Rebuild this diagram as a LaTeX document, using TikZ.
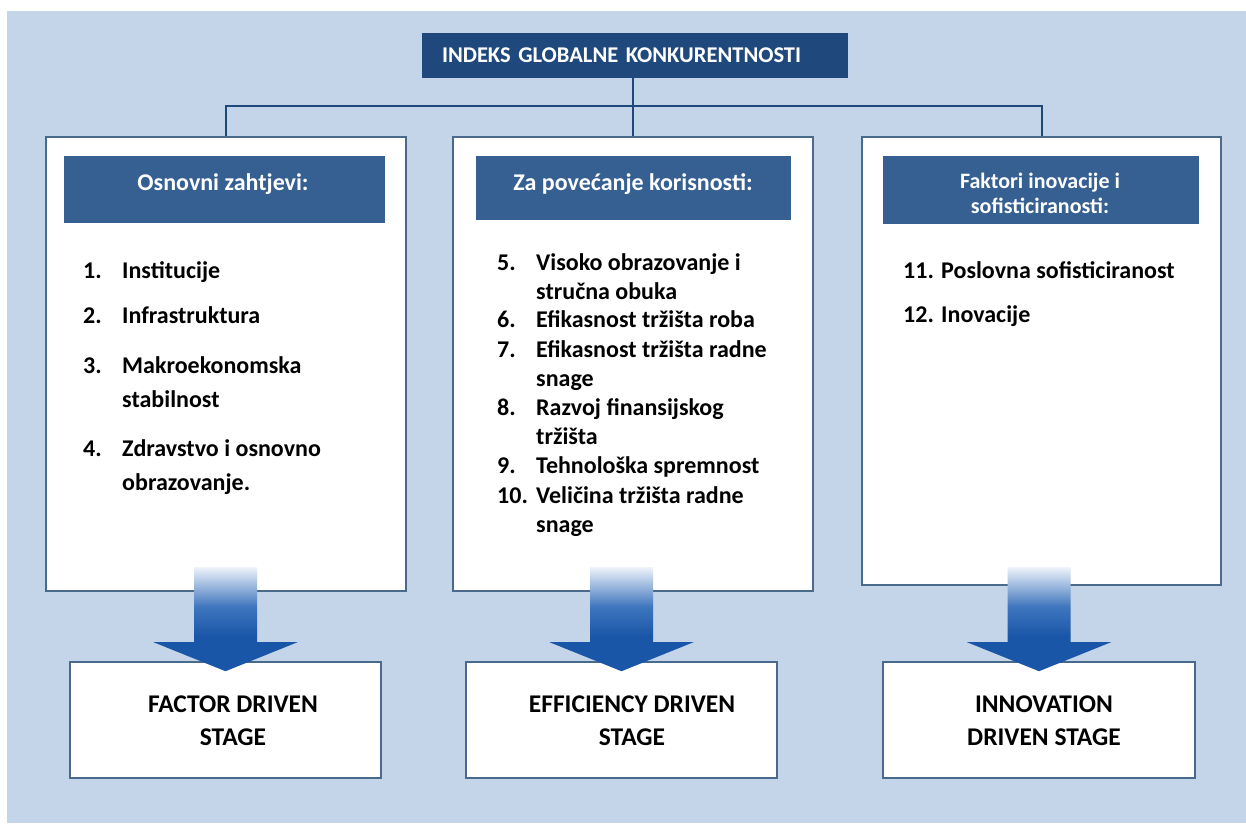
\documentclass[tikz,border=0pt]{standalone}
\usepackage{fontspec}
\setmainfont{Carlito}
\usetikzlibrary{calc}

\definecolor{bgblue}{HTML}{C4D4E9}
\definecolor{titleblue}{HTML}{1F497D}
\definecolor{barblue}{HTML}{366092}
\definecolor{edgeblue}{HTML}{4A6A8C}
\definecolor{arrowdark}{HTML}{1A56A8}
\definecolor{arrowmid}{HTML}{3F76BE}
\definecolor{arrowpale}{HTML}{EEF3FA}

\pgfdeclareverticalshading{arrowfade}{100bp}{color(0bp)=(arrowdark); color(25bp)=(arrowdark);
  color(42bp)=(arrowdark); color(56bp)=(arrowmid); color(75bp)=(arrowpale); color(100bp)=(arrowpale)}

\newcommand{\lines}[1]{\begin{tabular}[t]{@{}l@{}}#1\end{tabular}}
\newcommand{\clines}[1]{\begin{tabular}[t]{@{}c@{}}#1\end{tabular}}
% block arrow from a column box down into its stage box
\newcommand{\blockarrow}[1]{%
  \shade[shading=arrowfade]
    ($(#1.north)+(-31.5,-94)$) -- ($(#1.north)+(31.5,-94)$)
    -- ($(#1.north)+(31.5,-19)$) -- ($(#1.north)+(72,-19)$)
    -- ($(#1.north)+(0,10)$) -- ($(#1.north)+(-72,-19)$)
    -- ($(#1.north)+(-31.5,-19)$) -- cycle;}

\begin{document}
\begin{tikzpicture}[
    x=1pt, y=-1pt,
    box/.style={rectangle, draw=edgeblue, line width=1.6pt, fill=white, inner sep=0pt},
    column/.style={box},
    stagebox/.style={box, minimum width=311pt, minimum height=116pt},
    bar/.style={rectangle, fill=barblue, inner sep=0pt},
    bartext/.style={anchor=base, inner sep=0pt, text=white, font=\fontsize{24}{25}\selectfont\bfseries},
    itemtext/.style={anchor=base west, inner sep=0pt, font=\fontsize{24}{34}\selectfont\bfseries},
    itemtight/.style={itemtext, font=\fontsize{24}{29}\selectfont\bfseries},
    stagetext/.style={anchor=base, inner sep=0pt, font=\fontsize{25.5}{33}\selectfont\bfseries},
    bus/.style={draw=titleblue, line width=2pt}
]

% Background
\fill[bgblue] (7,11) rectangle (1246,823);
\useasboundingbox (0,0) rectangle (1246,823);

% Title
\node[rectangle, fill=titleblue, text=white, minimum height=45pt, text width=386pt,
      inner xsep=20pt, inner ysep=0pt, align=left,
      font=\fontsize{22.5}{24}\selectfont\bfseries] (title) at (635,55.5) {INDEKS GLOBALNE KONKURENTNOSTI};

% Columns
\node[column, minimum width=360pt, minimum height=454pt] (colA) at (226,364) {};
\node[column, minimum width=360pt, minimum height=454pt] (colB) at (633,364) {};
\node[column, minimum width=359pt, minimum height=448pt] (colC) at (1041.5,361) {};

% Connections
\coordinate (busmid) at (633,106);
\draw[bus] (colB.north |- title.south) -- (colB.north);
\draw[bus] (colA.north) |- (busmid) -| (colC.north);

% Headers
\node[bar, minimum width=321pt, minimum height=67pt] (hdrA) at (224.5,189.5) {};
\node[bar, minimum width=315pt, minimum height=64pt] (hdrB) at (633.5,188) {};
\node[bar, minimum width=316pt, minimum height=68pt] (hdrC) at (1041,190) {};
\node[bartext] (hdrAtext) at (223,190) {Osnovni zahtjevi:};
\node[bartext] (hdrBtext) at (633,190) {Za povećanje korisnosti:};
\begin{scope}
  \clip (883,156) rectangle (1199,215);
  \node[bartext, font=\fontsize{22}{25}\selectfont\bfseries] (hdrCtext) at (1040,188) {\clines{Faktori inovacije i\\sofisticiranosti:}};
\end{scope}

% Basic requirements
\node[itemtext] (nA1) at (83,278) {1.};
\node[itemtext] (tA1) at (122,278) {Institucije};
\node[itemtext] (nA2) at (83,323) {2.};
\node[itemtext] (tA2) at (122,323) {Infrastruktura};
\node[itemtext] (nA3) at (83,373) {3.};
\node[itemtext] (tA3) at (122,373) {\lines{Makroekonomska\\stabilnost}};
\node[itemtext] (nA4) at (83,456) {4.};
\node[itemtext] (tA4) at (122,456) {\lines{Zdravstvo i osnovno\\obrazovanje.}};

% Efficiency enhancers
\node[itemtight] (nB5) at (497,270) {5.};
\node[itemtight] (tB5) at (536,270) {\lines{Visoko obrazovanje i\\stručna obuka}};
\node[itemtight] (nB6) at (497,327) {6.};
\node[itemtight] (tB6) at (536,327) {Efikasnost tržišta roba};
\node[itemtight] (nB7) at (497,357) {7.};
\node[itemtight] (tB7) at (536,357) {\lines{Efikasnost tržišta radne\\snage}};
\node[itemtight] (nB8) at (497,415) {8.};
\node[itemtight] (tB8) at (536,415) {\lines{Razvoj finansijskog\\tržišta}};
\node[itemtight] (nB9) at (497,473) {9.};
\node[itemtight] (tB9) at (536,473) {Tehnološka spremnost};
\node[itemtight] (nB10) at (497,503) {10.};
\node[itemtight] (tB10) at (536,503) {\lines{Veličina tržišta radne\\snage}};

% Innovation factors
\node[itemtext] (nC11) at (903,278) {11.};
\node[itemtext] (tC11) at (941,278) {Poslovna sofisticiranost};
\node[itemtext] (nC12) at (903,322) {12.};
\node[itemtext] (tC12) at (941,322) {Inovacije};

% Stages
\node[stagebox] (stA) at (225.5,720) {};
\node[stagebox] (stB) at (621.5,720) {};
\node[stagebox, minimum width=312pt] (stC) at (1039,720) {};
\node[stagetext] (stAtext) at (233,712) {\clines{FACTOR DRIVEN\\STAGE}};
\node[stagetext] (stBtext) at (632,712) {\clines{EFFICIENCY DRIVEN\\STAGE}};
\node[stagetext] (stCtext) at (1044,712) {\clines{INNOVATION\\DRIVEN STAGE}};

% Arrows
\blockarrow{stA}
\blockarrow{stB}
\blockarrow{stC}

\end{tikzpicture}
\end{document}
